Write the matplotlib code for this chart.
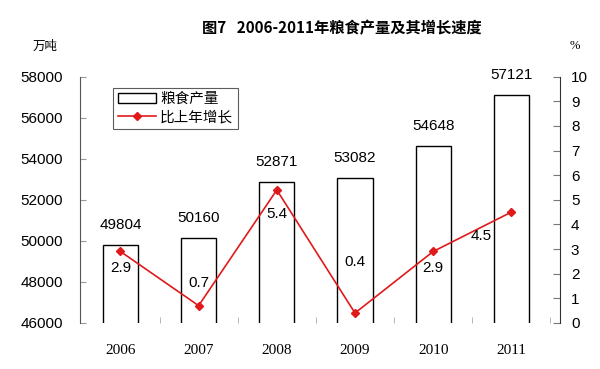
import numpy as np
import matplotlib.pyplot as plt
from matplotlib.lines import Line2D
from matplotlib.patches import Patch

plt.rcParams['font.family'] = ['Liberation Sans', 'Noto Sans CJK SC', 'DejaVu Sans']

# data
years = ['2006', '2007', '2008', '2009', '2010', '2011']
output = [49804, 50160, 52871, 53082, 54648, 57121]
growth = [2.9, 0.7, 5.4, 0.4, 2.9, 4.5]

# label offsets for growth text (points)
growth_dy = [-12, 16.5, -17, 37, -12, -17]
growth_dx = [0, 0, 0, 0, 0, -22]

fig = plt.figure(figsize=(6, 3.69), dpi=100)
ax = fig.add_axes([0.133, 0.125, 0.8, 0.667])
x = np.arange(len(years))

ax.bar(x, output, width=0.45, bottom=0, color='white', edgecolor='black', linewidth=1.0, zorder=2)
ax.set_ylim(46000, 58000)
ax.set_xlim(-0.52, 5.62)
ax.set_yticks(np.arange(46000, 58001, 2000))
ax.tick_params(axis='y', direction='in', length=4, colors='#999999', labelcolor='black', labelsize=11, pad=12)
ax.set_xticks(x)
ax.set_xticklabels(years, fontfamily='Liberation Serif', fontsize=11)
ax.tick_params(axis='x', length=0, pad=15)
ax.set_xticks(np.arange(0.5, 5.6, 1), minor=True)
ax.tick_params(axis='x', which='minor', direction='in', length=4, color='#aaaaaa')
for s in ['top', 'right', 'bottom']:
    ax.spines[s].set_visible(False)
ax.spines['left'].set_color('#555555')

for xi, v in zip(x, output):
    ax.annotate(str(v), (xi, v), xytext=(0, 9), textcoords='offset points',
                ha='center', va='bottom', fontsize=11)

ax2 = ax.twinx()
ax2.plot(x, growth, color='#e0191b', linewidth=1.2, marker='D', markersize=4.5,
         markerfacecolor='#e0191b', markeredgecolor='#e0191b', zorder=3)
ax2.set_ylim(0, 10)
ax2.set_yticks(range(0, 11))
ax2.tick_params(axis='y', direction='in', length=5, colors='#777777', labelcolor='black', labelsize=11, pad=8)
for s in ['top', 'left', 'bottom']:
    ax2.spines[s].set_visible(False)
ax2.spines['right'].set_color('#333333')

for xi, v, dx, dy in zip(x, growth, growth_dx, growth_dy):
    ax2.annotate(str(v), (xi, v), xytext=(dx, dy), textcoords='offset points',
                 ha='center', va='center', fontsize=11)

handles = [Patch(facecolor='white', edgecolor='black', linewidth=1.0),
           Line2D([], [], color='#e0191b', marker='D', markersize=4.5, linewidth=1.2)]
leg = ax.legend(handles, ['粮食产量', '比上年增长'], loc='upper left', bbox_to_anchor=(0.055, 0.985),
                frameon=True, fancybox=False, edgecolor='#333333',
                handlelength=2.6, handleheight=0.7, borderpad=0.3, labelspacing=0.3,
                handletextpad=0.3, prop={'family': ['Noto Sans CJK SC'], 'size': 10.5})
leg.get_frame().set_linewidth(0.8)

fig.text(0.57, 0.925, '图7   2006-2011年粮食产量及其增长速度', ha='center', va='center',
         fontsize=11, fontfamily=['Noto Sans CJK SC'], fontweight='bold')
fig.text(0.075, 0.875, '万吨', ha='center', va='center', fontsize=9, fontfamily=['Noto Sans CJK SC'])
fig.text(0.958, 0.875, '%', ha='center', va='center', fontsize=9, fontfamily=['Liberation Serif'])

fig.savefig('out.png', dpi=100)
